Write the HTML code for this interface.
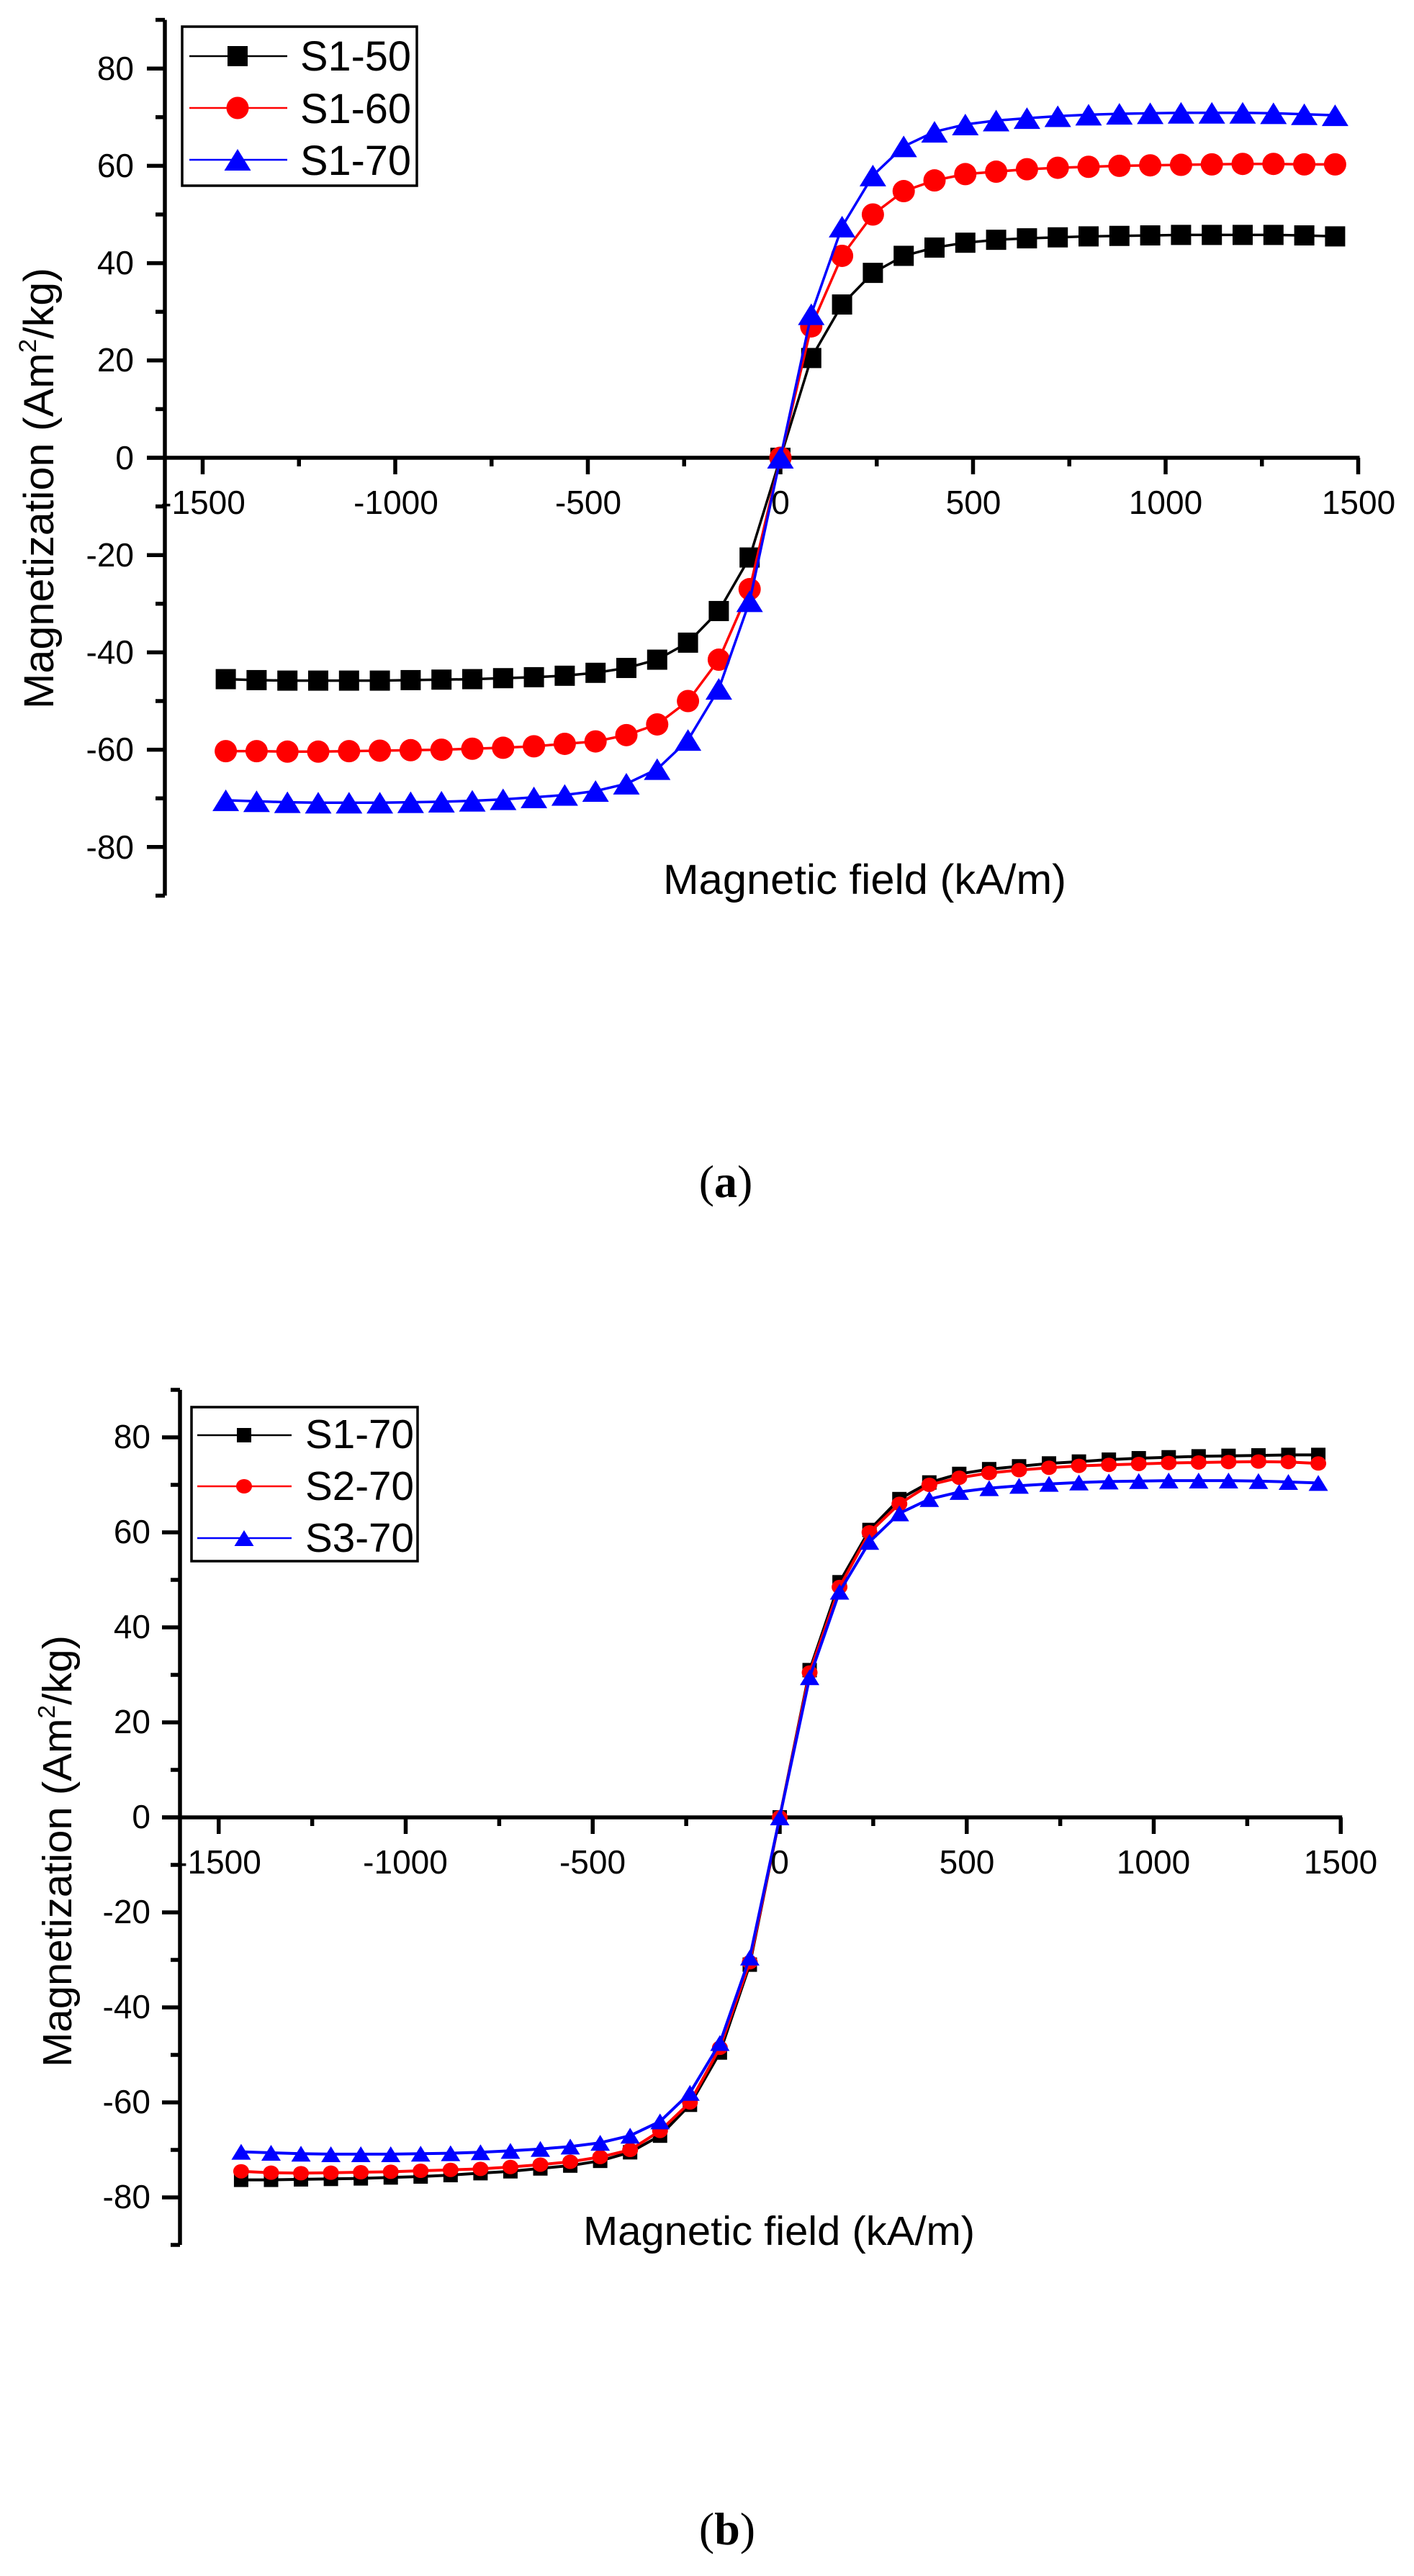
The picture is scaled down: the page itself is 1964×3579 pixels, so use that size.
<!DOCTYPE html>
<html><head><meta charset="utf-8"><style>
html,body{margin:0;padding:0;background:#fff;}
svg{display:block;}
text{font-family:"Liberation Sans",Arial,sans-serif;fill:#000;}
</style></head><body>
<svg id="s" width="1964" height="3579" viewBox="0 0 1964 3579" xmlns="http://www.w3.org/2000/svg">
<rect width="1964" height="3579" fill="#fff"/>
<g id="axA"></g><g id="axB"></g>
<g id="dataA"></g><g id="dataB"></g>

<!-- Panel A texts -->
<g font-size="46" text-anchor="end">
<text x="186" y="111">80</text>
<text x="186" y="246">60</text>
<text x="186" y="381">40</text>
<text x="186" y="516">20</text>
<text x="186" y="652">0</text>
<text x="186" y="787">-20</text>
<text x="186" y="922">-40</text>
<text x="186" y="1057">-60</text>
<text x="186" y="1193">-80</text>
</g>
<g font-size="46" text-anchor="middle">
<text x="282" y="714">-1500</text>
<text x="550" y="714">-1000</text>
<text x="817" y="714">-500</text>
<text x="1084" y="714">0</text>
<text x="1352" y="714">500</text>
<text x="1619" y="714">1000</text>
<text x="1887" y="714">1500</text>
</g>
<text x="921" y="1242" font-size="58" textLength="560" lengthAdjust="spacingAndGlyphs">Magnetic field (kA/m)</text>
<text transform="translate(74,985) rotate(-90)" font-size="58" textLength="613" lengthAdjust="spacingAndGlyphs">Magnetization (Am<tspan font-size="34" dy="-24">2</tspan><tspan dy="24">/kg)</tspan></text>
<text x="1008" y="1663" font-size="64" text-anchor="middle" style="font-family:'Liberation Serif',serif">(<tspan font-weight="bold">a</tspan>)</text>
<g font-size="58">
<text x="417" y="98" textLength="154" lengthAdjust="spacingAndGlyphs">S1-50</text>
<text x="417" y="171" textLength="154" lengthAdjust="spacingAndGlyphs">S1-60</text>
<text x="417" y="243" textLength="154" lengthAdjust="spacingAndGlyphs">S1-70</text>
</g>

<!-- Panel B texts -->
<g font-size="46" text-anchor="end">
<text x="209" y="2012">80</text>
<text x="209" y="2144">60</text>
<text x="209" y="2276">40</text>
<text x="209" y="2408">20</text>
<text x="209" y="2540">0</text>
<text x="209" y="2672">-20</text>
<text x="209" y="2804">-40</text>
<text x="209" y="2936">-60</text>
<text x="209" y="3068">-80</text>
</g>
<g font-size="46" text-anchor="middle">
<text x="304" y="2603">-1500</text>
<text x="563" y="2603">-1000</text>
<text x="823" y="2603">-500</text>
<text x="1083" y="2603">0</text>
<text x="1343" y="2603">500</text>
<text x="1602" y="2603">1000</text>
<text x="1862" y="2603">1500</text>
</g>
<text x="810" y="3119" font-size="57" textLength="544" lengthAdjust="spacingAndGlyphs">Magnetic field (kA/m)</text>
<text transform="translate(99,2872) rotate(-90)" font-size="57" textLength="600" lengthAdjust="spacingAndGlyphs">Magnetization (Am<tspan font-size="33" dy="-23">2</tspan><tspan dy="23">/kg)</tspan></text>
<text x="1010" y="3535" font-size="64" text-anchor="middle" style="font-family:'Liberation Serif',serif">(<tspan font-weight="bold">b</tspan>)</text>
<g font-size="57">
<text x="424" y="2012" textLength="151" lengthAdjust="spacingAndGlyphs">S1-70</text>
<text x="424" y="2084" textLength="151" lengthAdjust="spacingAndGlyphs">S2-70</text>
<text x="424" y="2156" textLength="151" lengthAdjust="spacingAndGlyphs">S3-70</text>
</g>
</svg>
<script>
(function(){
var NS="http://www.w3.org/2000/svg";
function el(p,t,a){var e=document.createElementNS(NS,t);for(var k in a)e.setAttribute(k,a[k]);p.appendChild(e);return e;}
function axes(g,o){
 el(g,"line",{x1:o.ax,y1:o.y(90),x2:o.ax,y2:o.y(-90),stroke:"#000","stroke-width":5.5});
 for(var v=-90;v<=90;v+=10){
   var maj=(v%20===0);
   el(g,"line",{x1:o.ax-(maj?25:13),y1:o.y(v),x2:o.ax,y2:o.y(v),stroke:"#000","stroke-width":5.5});
 }
 el(g,"line",{x1:o.ax-25,y1:o.y(0),x2:o.x(1500)+2,y2:o.y(0),stroke:"#000","stroke-width":5.5});
 for(var u=-1500;u<=1500;u+=250){
   var mj=(u%500===0);
   el(g,"line",{x1:o.x(u),y1:o.y(0),x2:o.x(u),y2:o.y(0)+(mj?23:12),stroke:"#000","stroke-width":5.5});
 }
}
function marker(g,type,cx,cy,s,col){
 if(type==="sq") el(g,"rect",{x:cx-s.sq/2,y:cy-s.sq/2,width:s.sq,height:s.sq,fill:col});
 else if(type==="ci") el(g,"ellipse",{cx:cx,cy:cy,rx:s.cw/2,ry:s.ch/2,fill:col});
 else el(g,"polygon",{points:(cx-s.tw/2)+","+(cy+s.th/2)+" "+(cx+s.tw/2)+","+(cy+s.th/2)+" "+cx+","+(cy-s.th/2),fill:col});
}
function series(g,o,vals,type,col,s,lw){
 var pts=[];
 for(var i=18;i>=1;i--)pts.push([-80*i,-vals[i-1]]);
 pts.push([0,0]);
 for(var i=1;i<=18;i++)pts.push([80*i,vals[i-1]]);
 var d=pts.map(function(p,i){return (i?"L":"M")+o.x(p[0]).toFixed(1)+" "+o.y(p[1]).toFixed(1);}).join(" ");
 el(g,"path",{d:d,fill:"none",stroke:col,"stroke-width":lw,"stroke-linejoin":"round"});
 pts.forEach(function(p){marker(g,type,o.x(p[0]),o.y(p[1]),s,col);});
}
function legend(g,box,rows,s,lw){
 el(g,"rect",{x:box[0],y:box[1],width:box[2],height:box[3],fill:"#fff",stroke:"#000","stroke-width":3.5});
 rows.forEach(function(r){
   el(g,"line",{x1:r.x1,y1:r.y,x2:r.x2,y2:r.y,stroke:r.col,"stroke-width":lw});
   marker(g,r.t,r.mx,r.y,s,r.col);
 });
}
var A={ax:229,x:function(v){return 1084+v*0.535;},y:function(v){return 636-v*6.76;}};
var gA=document.getElementById("axA"); axes(gA,A);
var dA=document.getElementById("dataA");
var sA={sq:28,cw:31,ch:31,tw:37,th:30};
var s150=[20.5,31.5,38,41.5,43.2,44.2,44.8,45.1,45.3,45.5,45.6,45.7,45.8,45.8,45.8,45.8,45.7,45.5];
var s160=[27,41.5,50,54.8,57,58.3,58.8,59.3,59.6,59.8,60,60.1,60.2,60.3,60.4,60.4,60.3,60.3];
var s170=[29.5,47.5,58,64,67,68.5,69.3,69.8,70.2,70.5,70.7,70.8,70.9,70.9,70.9,70.8,70.6,70.4];
series(dA,A,s150,"sq","#000",sA,3.5);
series(dA,A,s160,"ci","#f00",sA,3.5);
series(dA,A,s170,"tr","#00f",sA,3.5);
legend(dA,[253,37,326,221],[
 {t:"sq",col:"#000",y:78,x1:263,x2:399,mx:330},
 {t:"ci",col:"#f00",y:150,x1:263,x2:399,mx:330},
 {t:"tr",col:"#00f",y:222,x1:263,x2:399,mx:330}],sA,2.5);
var B={ax:250,x:function(v){return 1083+v*0.5195;},y:function(v){return 2525-v*6.6;}};
var gB=document.getElementById("axB"); axes(gB,B);
var dB=document.getElementById("dataB");
var sB={sq:20,cw:22,ch:20,tw:27,th:22};
var b1=[31,49.5,60.5,67,70.5,72.3,73.3,73.9,74.5,74.9,75.3,75.6,75.8,76,76.1,76.2,76.3,76.3];
var b2=[30.5,48.5,60,66,70,71.5,72.5,73.1,73.6,74,74.2,74.4,74.6,74.7,74.8,74.9,74.8,74.5];
series(dB,B,b1,"sq","#000",sB,4);
series(dB,B,b2,"ci","#f00",sB,4);
series(dB,B,s170,"tr","#00f",sB,4);
legend(dB,[266,1955,314,214],[
 {t:"sq",col:"#000",y:1994,x1:274,x2:405,mx:339},
 {t:"ci",col:"#f00",y:2065,x1:274,x2:405,mx:339},
 {t:"tr",col:"#00f",y:2137,x1:274,x2:405,mx:339}],sB,2.5);
})();
</script>
</body></html>
